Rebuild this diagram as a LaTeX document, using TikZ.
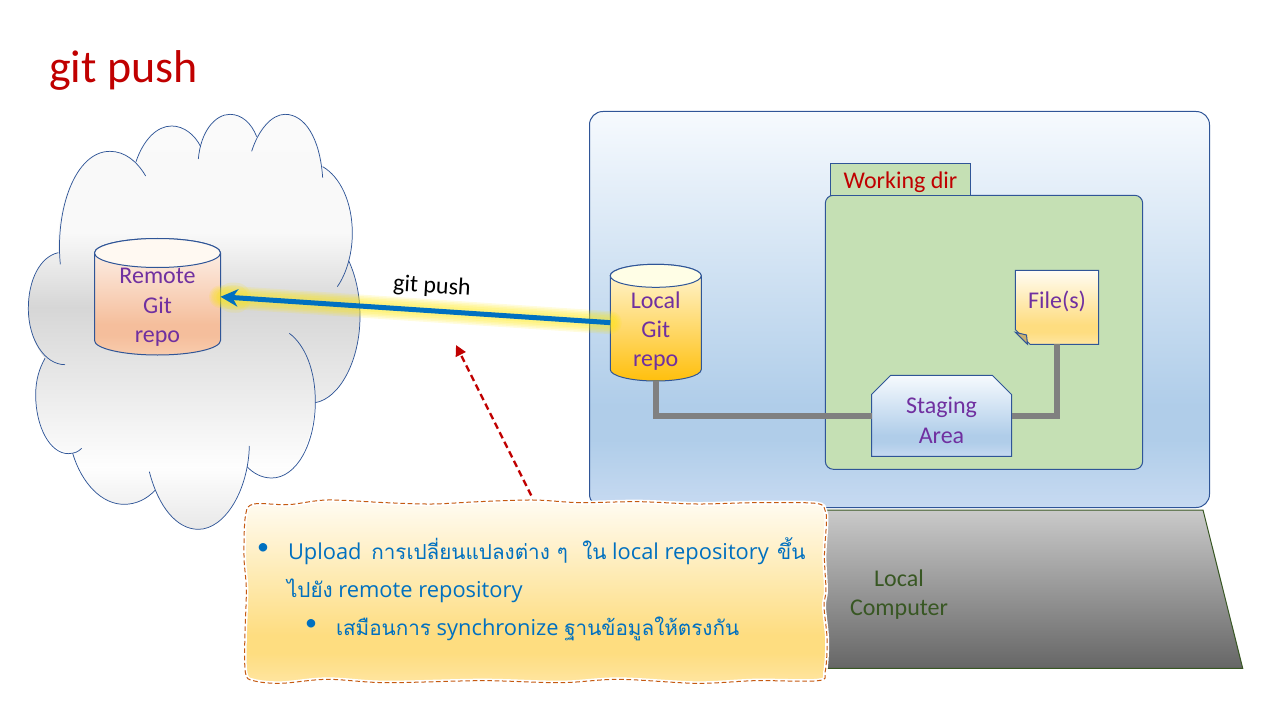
\documentclass[tikz,border=0pt]{standalone}
\usepackage{fontspec}
\setmainfont{Carlito}
\newfontfamily\thaifont[Script=Thai]{Loma}
\newfontfamily\hintfont{Open Sans}
\newcommand\thaibit[1]{{\thaifont\fontsize{15.5}{20}\selectfont #1}}
\usetikzlibrary{shapes.misc, arrows.meta, calc}

\definecolor{linkblue}{HTML}{2F5597}
\definecolor{repoviolet}{HTML}{7030A0}
\definecolor{titlered}{HTML}{C00000}
\definecolor{hintblue}{HTML}{0070C0}
\definecolor{baseolive}{HTML}{385723}
\definecolor{leafgreen}{HTML}{C5E0B4}
\definecolor{foldtan}{HTML}{C9AE70}
\definecolor{notedash}{HTML}{C55A11}

\pgfdeclareverticalshading{bluefade}{100bp}{rgb(0bp)=(.78,.855,.945);
    rgb(25bp)=(.78,.855,.945); rgb(33.5bp)=(.69,.805,.915); rgb(38bp)=(.69,.805,.915); rgb(75bp)=(.965,.98,.995); rgb(100bp)=(.965,.98,.995)}
\pgfdeclareverticalshading{goldfade}{100bp}{rgb(0bp)=(1,.9,.63); rgb(25bp)=(1,.9,.63);
    rgb(33.5bp)=(.995,.865,.5); rgb(38bp)=(.995,.865,.5); rgb(75bp)=(1,.988,.955); rgb(100bp)=(1,.988,.955)}
\pgfdeclareverticalshading{amberfade}{100bp}{rgb(0bp)=(1,.75,.05); rgb(25bp)=(1,.75,.05);
    rgb(75bp)=(1,.97,.86); rgb(100bp)=(1,.97,.86)}
\pgfdeclareverticalshading{peachfade}{100bp}{rgb(0bp)=(.975,.8,.68); rgb(25bp)=(.975,.8,.68);
    rgb(33.5bp)=(.96,.745,.61); rgb(38bp)=(.96,.745,.61); rgb(75bp)=(.995,.965,.945); rgb(100bp)=(.995,.965,.945)}
\pgfdeclareverticalshading{cloudfade}{100bp}{rgb(0bp)=(.91,.91,.91); rgb(25bp)=(.91,.91,.91);
    rgb(32.5bp)=(.995,.995,.995); rgb(51.8bp)=(.84,.84,.84); rgb(60.7bp)=(.975,.975,.975); rgb(75bp)=(.98,.98,.98); rgb(100bp)=(.98,.98,.98)}
\pgfdeclareverticalshading{slabfade}{100bp}{rgb(0bp)=(.4,.4,.4); rgb(25bp)=(.4,.4,.4);
    rgb(75bp)=(.79,.79,.79); rgb(100bp)=(.79,.79,.79)}

\begin{document}
\begin{tikzpicture}[
    x=.75pt, y=-.75pt,
    every node/.style={outer sep=0pt, inner sep=0pt, font=\fontsize{18}{22}\selectfont},
    outline/.style={draw=linkblue, line width=.75pt},
    puff/.style={draw=linkblue, line width=.55pt},
    repotext/.style={text=repoviolet, align=center},
    link/.style={draw=black!50, line width=4.3pt},
    glow/.style={draw=yellow!90!orange, line cap=round, opacity=.13},
    hintline/.style={font=\hintfont\fontsize{16.4}{20}\selectfont, text=hintblue, anchor=base west},
    ]
    \useasboundingbox (0,0) rectangle (1280,720);

    \node (title) [anchor=base west, text=titlered, font=\fontsize{34.5}{40}\selectfont] at (49,83) {git push};

    % cloud
    \begin{scope}[shift={(0,90)}, scale=.33333]
        \shade [shading=cloudfade]
            (175,488) .. controls (165,360) and (225,184) .. (330,184) .. controls (360,184) and (390,195) .. (408,215)
            .. controls (430,150) and (470,108) .. (515,108) .. controls (552,108) and (585,135) .. (598,165)
            .. controls (610,110) and (650,73) .. (690,73) .. controls (725,73) and (755,100) .. (768,138)
            .. controls (785,100) and (820,73) .. (855,73) .. controls (915,73) and (960,145) .. (968,230)
            .. controls (1020,260) and (1057,335) .. (1057,430) .. controls (1057,460) and (1053,490) .. (1046,512)
            .. controls (1068,560) and (1080,615) .. (1080,680) .. controls (1080,810) and (1020,925) .. (946,938)
            .. controls (935,1060) and (890,1164) .. (815,1164) .. controls (785,1164) and (760,1150) .. (741,1130)
            .. controls (715,1240) and (660,1318) .. (595,1318) .. controls (540,1318) and (490,1270) .. (466,1200)
            .. controls (440,1228) and (408,1243) .. (372,1243) .. controls (305,1243) and (245,1180) .. (218,1090)
            .. controls (150,1085) and (107,1010) .. (107,915) .. controls (107,870) and (118,835) .. (135,805)
            .. controls (105,770) and (85,715) .. (85,655) .. controls (85,570) and (120,500) .. (175,488) -- cycle;
        \draw [puff] (181,523) .. controls (165,360) and (225,184) .. (330,184) .. controls (375,184) and (412,215) .. (437,258);
        \draw [puff] (408,215) .. controls (430,150) and (470,108) .. (515,108) .. controls (552,108) and (585,135) .. (602,170);
        \draw [puff] (595,207) .. controls (602,125) and (645,73) .. (690,73) .. controls (725,73) and (755,100) .. (770,140);
        \draw [puff] (755,184) .. controls (775,120) and (815,73) .. (855,73) .. controls (915,73) and (960,145) .. (968,263);
        \draw [puff] (968,230) .. controls (1020,260) and (1057,335) .. (1057,430) .. controls (1057,490) and (1040,550) .. (1012,590);
        \draw [puff] (1046,512) .. controls (1068,560) and (1080,615) .. (1080,680) .. controls (1080,810) and (1020,925) .. (946,938);
        \draw [puff] (868,730) .. controls (915,765) and (946,840) .. (946,935) .. controls (946,1060) and (890,1164) .. (815,1164) .. controls (785,1164) and (760,1150) .. (741,1130);
        \draw [puff] (748,1068) .. controls (745,1200) and (675,1318) .. (595,1318) .. controls (530,1318) and (475,1250) .. (448,1145);
        \draw [puff] (466,1200) .. controls (440,1228) and (408,1243) .. (372,1243) .. controls (305,1243) and (245,1180) .. (218,1090);
        \draw [puff] (245,1075) .. controls (235,1085) and (225,1090) .. (205,1091) .. controls (150,1091) and (107,1010) .. (107,915) .. controls (107,870) and (118,835) .. (135,805);
        \draw [puff] (195,824) .. controls (135,824) and (85,750) .. (85,655) .. controls (85,570) and (120,500) .. (175,488);
    \end{scope}

    % local computer
    \shade [draw=baseolive, line width=.75pt, shading=slabfade] (595,510) -- (1203,510) -- (1242.7,668.3) -- (556,668.3) -- cycle;
    \node (slab) [text=baseolive, align=center] at (899,594.5) {Local\\Computer};
    \node (screen) [outline, rounded corners=10pt, shade, shading=bluefade,
        minimum width=465pt, minimum height=297pt] at (899.5,309.5) {};
    \node (workbody) [outline, rounded corners=6pt, fill=leafgreen,
        minimum width=238pt, minimum height=205.5pt] at (984,332.3) {};
    \node (worktab) [outline, fill=leafgreen, text=titlered, text height=17pt, text depth=3.5pt,
        minimum width=105pt, minimum height=24pt] at (900.5,179.3) {Working dir};

    % repositories
    \shade [outline, shading=peachfade] (94.5,253) .. controls (94.5,245) and (122.7,238.5) .. (157.5,238.5)
        .. controls (192.3,238.5) and (220.5,245) .. (220.5,253) -- (220.5,340.5)
        .. controls (220.5,348.5) and (192.3,355) .. (157.5,355) .. controls (122.7,355) and (94.5,348.5) .. (94.5,340.5) -- cycle;
    \draw [outline, fill=white!95!orange] (157.5,253) ellipse [x radius=63, y radius=14.5];
    \node (remoterepo) [minimum width=94.5pt, minimum height=87.4pt] at (157.5,296.75) {};
    \node (remotetext) [repotext] at (157.5,307.5) {Remote\\Git\\repo};
    \shade [outline, shading=amberfade] (610.25,275.8) .. controls (610.25,269.4) and (630.6,264.3) .. (655.75,264.3)
        .. controls (680.9,264.3) and (701.25,269.4) .. (701.25,275.8) -- (701.25,369.5)
        .. controls (701.25,375.9) and (680.9,381) .. (655.75,381) .. controls (630.6,381) and (610.25,375.9) .. (610.25,369.5) -- cycle;
    \draw [outline, fill=white!90!yellow] (655.75,275.8) ellipse [x radius=45.5, y radius=11.5];
    \node (localrepo) [minimum width=68.25pt, minimum height=87.5pt] at (655.75,322.65) {};
    \node (localtext) [repotext] at (655.75,331) {Local\\Git\\repo};

    % staging and files
    \node (filebox) [outline, chamfered rectangle, chamfered rectangle corners=south west,
        chamfered rectangle xsep=5.5pt, chamfered rectangle ysep=5.5pt, shade, shading=goldfade, text=repoviolet,
        text height=13.3pt, text depth=11.5pt,
        minimum width=62.5pt, minimum height=55.5pt] at (1057,307.3) {File(s)};
    \draw [outline, fill=foldtan] (1015.3,332.3) -- (1026.5,335) -- (1027.5,344.3) -- cycle;
    \node (stagebox) [outline, chamfered rectangle, chamfered rectangle corners={north west, north east},
        chamfered rectangle xsep=7.2pt, chamfered rectangle ysep=7.2pt, shade, shading=bluefade, text=repoviolet, align=center,
        text height=41pt,
        minimum width=105pt, minimum height=60.75pt] at (941.5,415.8) {Staging\\Area};
    \draw [link] (localrepo.south) |- (stagebox.west);
    \draw [link] (stagebox.east) -| (filebox.south);

    % push
    \foreach \w in {23,20,17,14,10} {
        \draw [glow, line width=\w*.75pt] (localrepo.west) -- (remoterepo.east);
    }
    \foreach \w in {30,25} {
        \draw [glow, line width=\w*.75pt] ($(remoterepo.east)!.03!(localrepo.west)$) -- ($(remoterepo.east)!.04!(localrepo.west)$);
    }
    \draw [draw=hintblue, line width=3.75pt, -{Stealth[length=13pt, width=13pt, inset=4pt]}] (localrepo.west) -- (remoterepo.east);
    \node (pushlabel) [rotate=-3.5] at (432,287) {git push};

    % note
    \coordinate (noteedge) at (536,505);
    \coordinate (notetarget) at (456,345);
    \draw [draw=titlered, line width=1.8pt, dash pattern=on 5pt off 3pt, -{Triangle[length=8pt, width=8pt]}] (noteedge) -- (notetarget);
    \begin{scope}[shift={(230,490)}, xscale=.389, yscale=.33333]
        \draw [draw=white, line width=3pt, shade, shading=goldfade]
            plot [smooth cycle, tension=.55] coordinates {
                (40,75) (62,42) (150,44) (250,30) (400,38) (520,42) (640,35) (780,30) (900,38) (1050,35) (1200,42) (1350,38) (1505,40) (1530,62)
                (1533,100) (1528,200) (1532,300) (1527,350) (1535,450) (1530,545) (1512,572)
                (1350,572) (1200,580) (1000,568) (850,578) (650,572) (400,578) (250,568) (130,580) (60,572) (40,550)
                (38,450) (42,300) (36,200)};
        \draw [draw=notedash, line width=.75pt, dash pattern=on 3.5pt off 2pt]
            plot [smooth cycle, tension=.55] coordinates {
                (40,75) (62,42) (150,44) (250,30) (400,38) (520,42) (640,35) (780,30) (900,38) (1050,35) (1200,42) (1350,38) (1505,40) (1530,62)
                (1533,100) (1528,200) (1532,300) (1527,350) (1535,450) (1530,545) (1512,572)
                (1350,572) (1200,580) (1000,568) (850,578) (650,572) (400,578) (250,568) (130,580) (60,572) (40,550)
                (38,450) (42,300) (36,200)};
    \end{scope}
    \node (dotone) [text=hintblue] at (263,549) {•};
    \node (lineone) [hintline] at (288,559) {Upload\hspace{3pt} \thaibit{การเปลี่ยนแปลงต่าง ๆ\hspace{5.5pt} ใน} local repository\hspace{2pt} \thaibit{ขึ้น}};
    \node (linetwo) [hintline] at (287,597) {\thaibit{ไปยัง} remote repository};
    \node (dottwo) [text=hintblue] at (311,625) {•};
    \node (linethree) [hintline] at (336,635) {\thaibit{เสมือนการ} synchronize \thaibit{ฐานข้อมูลให้ตรงกัน}};
\end{tikzpicture}
\end{document}
